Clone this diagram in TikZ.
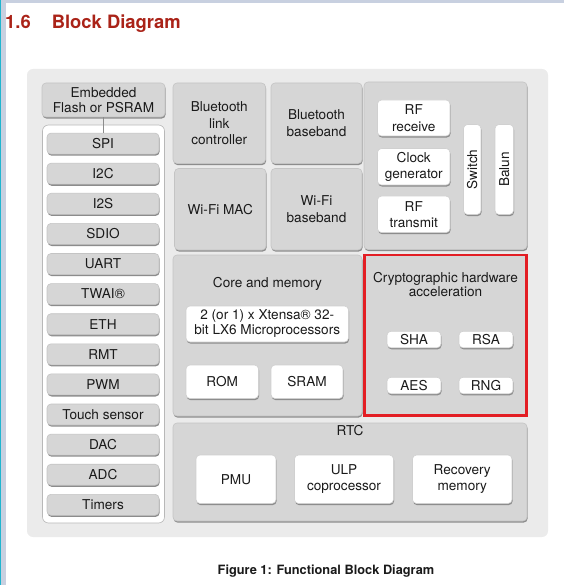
\documentclass[tikz,border=0pt]{standalone}
\usepackage{fontspec}
\setmainfont{TeX Gyre Heros}
\usetikzlibrary{shadows}
\definecolor{panelg}{HTML}{EBEBEB}
\definecolor{boxg}{HTML}{D6D6D6}
\definecolor{bordg}{HTML}{C4C4C4}
\definecolor{bordw}{HTML}{D0D0D0}
\definecolor{shc}{HTML}{8C8C8C}
\definecolor{txt}{HTML}{1A1A1A}
\definecolor{titlered}{HTML}{AA2318}
\definecolor{cryptored}{HTML}{E31E24}
\definecolor{barblue}{HTML}{C8D0E0}
\definecolor{cyanline}{HTML}{1FB5CF}
\definecolor{contb}{HTML}{B8B8B8}
\newcommand{\blk}{\fontsize{13.6}{16.4}\selectfont}
\newcommand{\blkt}{\fontsize{13.6}{13.6}\selectfont}
\tikzset{
  base/.style={rectangle, rounded corners=4pt, inner sep=0pt, font=\blk, text=txt, align=center},
  shad/.style={drop shadow={shadow xshift=0.6pt, shadow yshift=-1.6pt, fill=shc, opacity=1}},
  gbox/.style={base, fill=boxg, draw=bordg, line width=0.6pt, shad},
  wbox/.style={base, fill=white, draw=bordw, line width=0.6pt, shad},
  perip/.style={gbox, minimum width=112pt, minimum height=21pt},
  smallw/.style={wbox, minimum width=54pt, minimum height=16.5pt},
}
\begin{document}
\begin{tikzpicture}[x=1pt,y=-1pt]
\useasboundingbox (0,0) rectangle (564,585);
% page decorations
\fill[barblue] (0,0) rectangle (564,3);
\fill[barblue] (0,0) rectangle (6,585);
\fill[cyanline] (0,0) rectangle (1.4,585);
\node[anchor=base west, text=titlered, font=\fontsize{18.4}{20}\selectfont\bfseries, inner sep=0pt] (ttl) at (5,29) {1.6\hspace{21pt}Block Diagram};
% outer panel
\node[rectangle, rounded corners=6pt, fill=panelg, inner sep=0pt, minimum width=521pt, minimum height=468pt] (panel) at (287.5,303) {};
% left column
\node[gbox, minimum width=123pt, minimum height=34pt] (emb) at (103.5,100) {Embedded\\[-1.4pt]Flash or PSRAM};
\node[rectangle, rounded corners=6pt, fill=white, draw=contb, line width=0.6pt, inner sep=0pt, minimum width=122pt, minimum height=398pt] (cont) at (103.5,324) {};
\node[perip] (spi) at (103,143.6) {SPI};
\node[perip] (i2c) at (103,173.7) {I2C};
\node[perip] (i2s) at (103,203.8) {I2S};
\node[perip] (sdio) at (103,233.9) {SDIO};
\node[perip] (uart) at (103,264.0) {UART};
\node[perip] (twai) at (103,294.1) {TWAI®};
\node[perip] (eth) at (103,324.2) {ETH};
\node[perip] (rmt) at (103,354.3) {RMT};
\node[perip] (pwm) at (103,384.4) {PWM};
\node[perip] (touch) at (103,414.5) {Touch sensor};
\node[perip] (dac) at (103,444.6) {DAC};
\node[perip] (adc) at (103,474.7) {ADC};
\node[perip] (tim) at (103,504.8) {Timers};
\draw[draw=shc, line width=0.8pt] (emb.south -| spi.north) -- (spi.north);
% wireless blocks
\node[gbox, minimum width=92.5pt, minimum height=80.5pt] (btlc) at (219.25,123.25) {Bluetooth\\link\\controller};
\node[gbox, minimum width=91pt, minimum height=80.5pt] (btbb) at (316.5,123.25) {Bluetooth\\baseband};
\node[gbox, minimum width=91.5pt, minimum height=81.5pt] (wmac) at (220.25,209.25) {Wi-Fi MAC};
\node[gbox, minimum width=91pt, minimum height=81.5pt] (wbb) at (316.5,209.25) {Wi-Fi\\baseband};
% RF panel
\node[gbox, minimum width=163pt, minimum height=167.5pt] (rf) at (445.5,165.75) {};
\node[wbox, minimum width=72.5pt, minimum height=36pt] (rfrx) at (413.75,118) {RF\\receive};
\node[wbox, minimum width=72.5pt, minimum height=36.5pt] (clk) at (413.75,166.75) {Clock\\generator};
\node[wbox, minimum width=72.5pt, minimum height=36.5pt] (rftx) at (413.75,214.35) {RF\\transmit};
\node[wbox, minimum width=17.5pt, minimum height=90pt] (sw) at (472.25,169.5) {\rotatebox{90}{Switch}};
\node[wbox, minimum width=18.5pt, minimum height=90pt] (balun) at (504.25,169.5) {\rotatebox{90}{Balun}};
% core and memory
\node[gbox, minimum width=189pt, minimum height=161pt] (core) at (267.5,335.5) {};
\node[base, anchor=center] (coret) at (267.5,283.5) {Core and memory};
\node[wbox, minimum width=162.5pt, minimum height=36pt] (xt) at (267.25,324) {2 (or 1) x Xtensa® 32-\\[-1.4pt]bit LX6 Microprocessors};
\node[wbox, minimum width=72.5pt, minimum height=33.5pt] (rom) at (222.25,381.75) {ROM};
\node[wbox, minimum width=72pt, minimum height=33.5pt] (sram) at (307,381.75) {SRAM};
% crypto
\node[base, fill=boxg, draw=cryptored, line width=2.4pt, rounded corners=0pt, minimum width=162pt, minimum height=160.5pt] (cry) at (445.5,335.25) {};
\node[base, font=\blkt] (cryt) at (445.5,284.5) {Cryptographic hardware\\acceleration};
\node[smallw] (sha) at (414,339.5) {SHA};
\node[smallw] (rsa) at (486,339.5) {RSA};
\node[smallw] (aes) at (414,385.5) {AES};
\node[smallw] (rng) at (486,385.5) {RNG};
% RTC
\node[gbox, minimum width=354pt, minimum height=98pt] (rtc) at (350,472) {};
\node[base] (rtct) at (350,430.5) {RTC};
\node[wbox, minimum width=80pt, minimum height=48.5pt] (pmu) at (236,479.25) {PMU};
\node[wbox, minimum width=99pt, minimum height=48.5pt] (ulp) at (344,479.25) {ULP\\coprocessor};
\node[wbox, minimum width=99.5pt, minimum height=48.5pt] (rec) at (462.25,479.25) {Recovery\\memory};
% caption
\node[text=txt, font=\fontsize{12.8}{14}\selectfont\bfseries, inner sep=0pt] (cap) at (326,571) {Figure 1: Functional Block Diagram};
\end{tikzpicture}
\end{document}
